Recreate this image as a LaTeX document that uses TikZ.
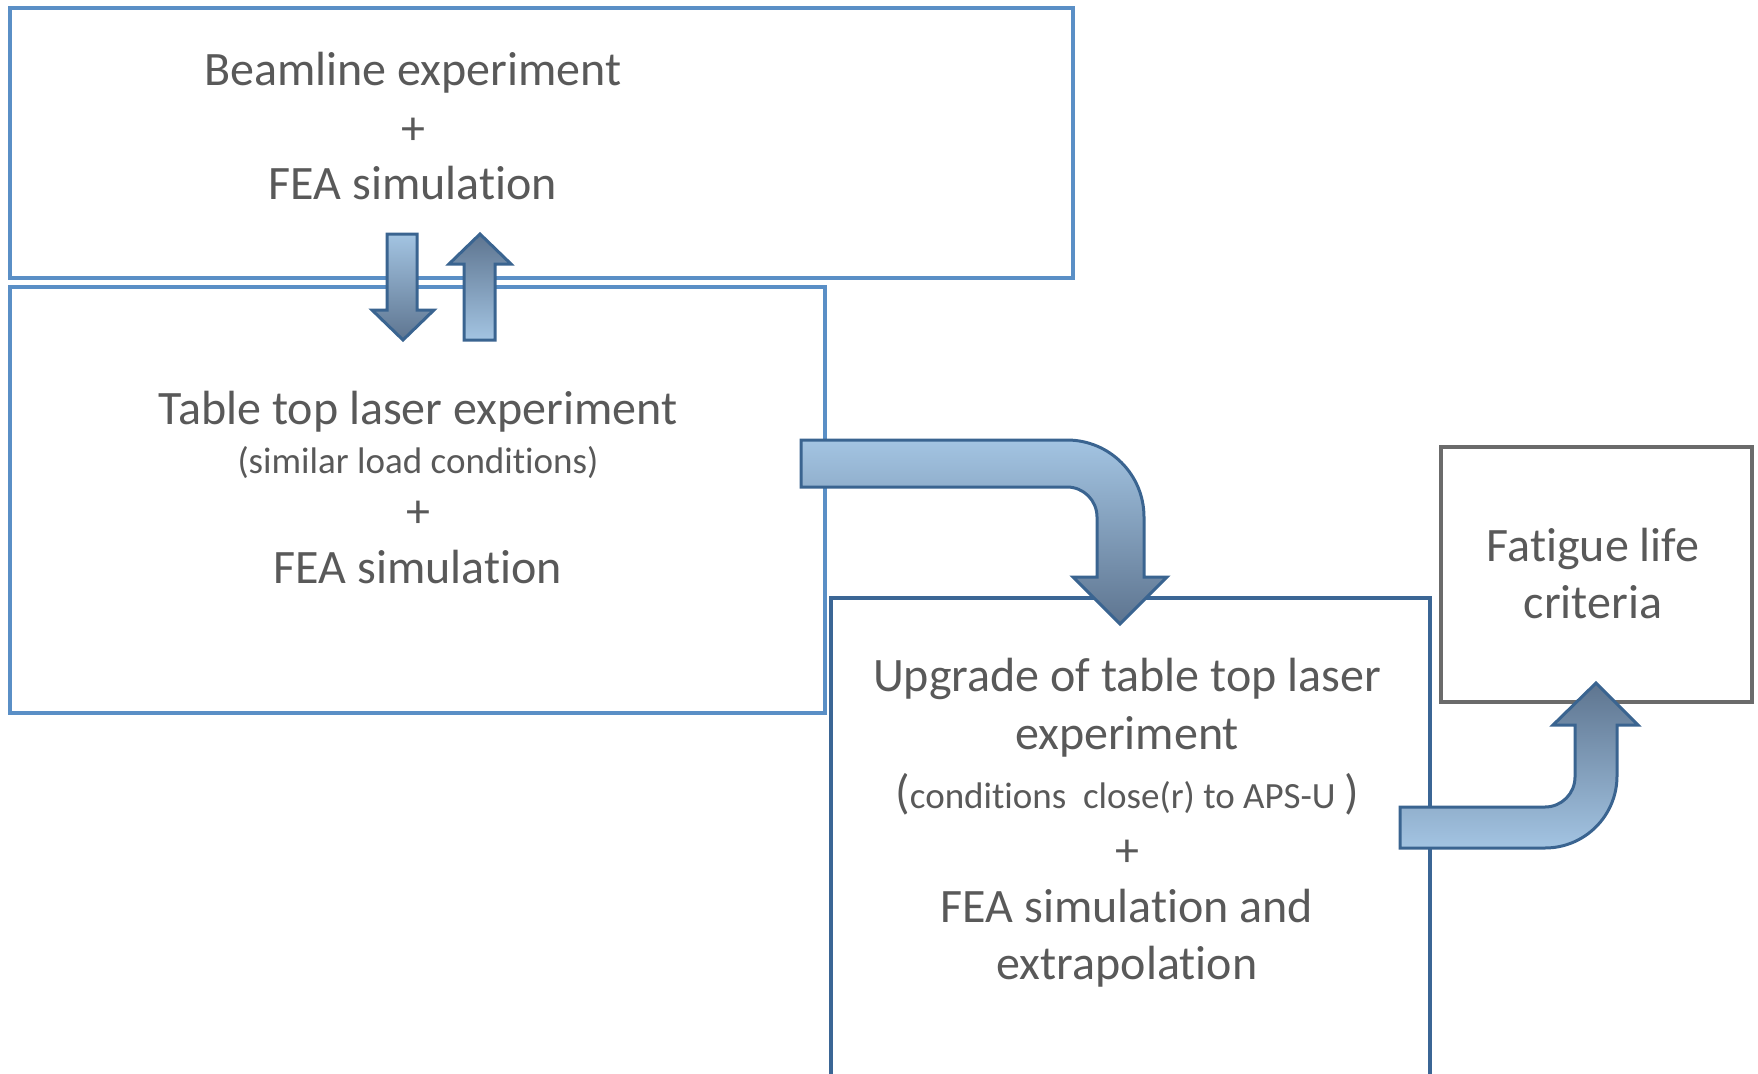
\documentclass[tikz,border=0pt]{standalone}
\usepackage{fontspec}
\setmainfont{Carlito}[Ligatures={NoCommon}]
\definecolor{lineA}{HTML}{5A8FC6}
\definecolor{lineB}{HTML}{3B6695}
\definecolor{lineG}{HTML}{6B6B6B}
\definecolor{arrline}{HTML}{3A6490}
\definecolor{arrlight}{HTML}{A3C4E2}
\definecolor{arrdark}{HTML}{5E7590}
\definecolor{txt}{HTML}{595959}
\tikzset{
  boxA/.style={draw=lineA, line width=3.5pt, inner sep=0pt, outer sep=0pt, anchor=north west},
  boxB/.style={draw=lineB, line width=3.5pt, inner sep=0pt, outer sep=0pt, anchor=north west},
  boxG/.style={draw=lineG, line width=3.5pt, inner sep=0pt, outer sep=0pt, anchor=north west},
  big/.style={text=txt, inner sep=0pt, anchor=base, font=\fontsize{48}{57}\selectfont},
  small/.style={text=txt, inner sep=0pt, anchor=base, font=\fontsize{37}{44}\selectfont},
  arrdown/.style={draw=arrline, line width=3pt, line join=miter, top color=arrlight, bottom color=arrdark},
  arrup/.style={draw=arrline, line width=3pt, line join=miter, top color=arrdark, bottom color=arrlight},
}
\begin{document}
\begin{tikzpicture}[x=1pt,y=1pt]
\useasboundingbox (0,0) rectangle (1758,-1073);
\clip (0,0) rectangle (1758,-1073);
% boxes
\node[boxA, minimum width=1063pt, minimum height=270pt] (beam) at (10,-8) {};
\node[boxA, minimum width=815pt, minimum height=426pt] (table) at (10,-287) {};
\node[boxB, minimum width=599pt, minimum height=520pt] (upgrade) at (831,-598) {};
\node[boxG, minimum width=311pt, minimum height=255pt] (fatigue) at (1441,-447) {};
% texts
\node[big] (b1a) at (413,-85) {Beamline experiment};
\node[big] (b1b) at (413,-144) {+};
\node[big] (b1c) at (413,-199) {FEA simulation};
\node[big] (b2a) at (418,-424) {Table top laser experiment};
\node[small] (b2b) at (418,-473) {(similar load conditions)};
\node[big] (b2c) at (418,-527) {+};
\node[big] (b2d) at (418,-583) {FEA simulation};
\node[big] (b3a) at (1127,-691) {Upgrade of table top laser};
\node[big] (b3b) at (1127,-749) {experiment};
\node[big] (b3c) at (1127,-808) {(\fontsize{37}{44}\selectfont conditions\ \ close(r) to APS-U \fontsize{48}{57}\selectfont)};
\node[big] (b3d) at (1127,-866) {+};
\node[big] (b3e) at (1127,-922) {FEA simulation and};
\node[big] (b3f) at (1127,-979) {extrapolation};
\node[big] (b4a) at (1593,-561) {Fatigue life};
\node[big] (b4b) at (1593,-618) {criteria};
% straight arrows
\path[arrdown] (387,-234) -- (417,-234) -- (417,-310) -- (434,-310) -- (403,-340) -- (372,-310) -- (387,-310) -- cycle;
\path[arrup] (464,-340) -- (495,-340) -- (495,-264) -- (511,-264) -- (480,-234) -- (449,-264) -- (464,-264) -- cycle;
% bent arrow 1
\path[arrdown] (801,-440) -- (1067,-440) arc[start angle=90, end angle=0, radius=77pt]
  -- (1144,-577) -- (1167,-577) -- (1120,-624) -- (1073,-577) -- (1097,-577) -- (1097,-517)
  arc[start angle=0, end angle=90, radius=30pt] -- (801,-487) -- cycle;
% bent arrow 2
\path[arrup] (1400,-848) -- (1545,-848) arc[start angle=270, end angle=360, radius=72pt]
  -- (1617,-725) -- (1638,-725) -- (1596,-683) -- (1553,-725) -- (1575,-725) -- (1575,-777)
  arc[start angle=0, end angle=-90, radius=30pt] -- (1400,-807) -- cycle;
\end{tikzpicture}
\end{document}
